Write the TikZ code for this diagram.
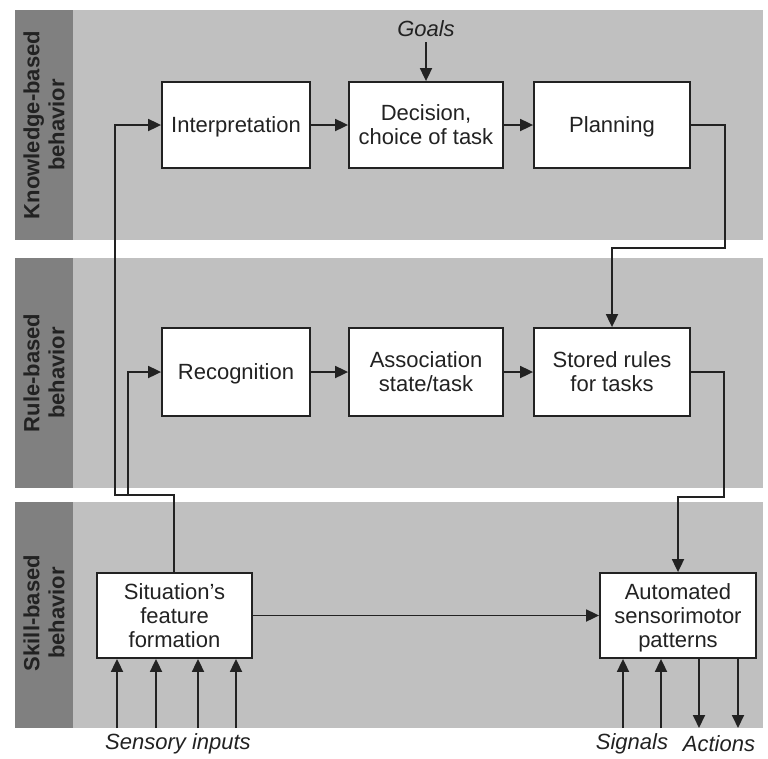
\documentclass[tikz,border=0pt]{standalone}
\usepackage{fontspec}
\setmainfont{Liberation Sans}
\usetikzlibrary{arrows.meta}
\definecolor{bandgray}{RGB}{192,192,192}
\definecolor{stripgray}{RGB}{128,128,128}
\definecolor{ink}{RGB}{34,34,34}
\begin{document}
\begin{tikzpicture}[x=1pt,y=-1pt,
  box/.style={draw=ink, line width=1.8pt, fill=white, text=ink, align=center,
    inner sep=0pt, text depth=-3pt, font=\fontsize{22}{24}\selectfont},
  conn/.style={draw=ink, line width=1.8pt},
  arr/.style={conn, -{Triangle[length=13pt,width=12pt]}},
  stripbox/.style={fill=stripgray, draw=none},
  band/.style={fill=bandgray, draw=none},
  striptext/.style={rotate=90, align=center, text=ink,
    font=\bfseries\fontsize{22}{25}\selectfont},
  ital/.style={text=ink, font=\itshape\fontsize{22}{24}\selectfont, inner sep=0pt}]
\useasboundingbox (0,0) rectangle (768,758);
\fill[white] (0,0) rectangle (768,758);

% behaviour levels
\fill[band] (73,10) rectangle (763,240);
\fill[band] (73,258) rectangle (763,488);
\fill[band] (73,502) rectangle (763,728);
\fill[stripbox] (15,10) rectangle (73,240);
\fill[stripbox] (15,258) rectangle (73,488);
\fill[stripbox] (15,502) rectangle (73,728);
\node[striptext] (lk) at (44,125) {Knowledge-based\\behavior};
\node[striptext] (lr) at (44,373) {Rule-based\\behavior};
\node[striptext] (ls) at (44,613) {Skill-based\\behavior};

% processing stages
\node[box, minimum width=148pt, minimum height=86pt] (interp) at (236,125) {Interpretation};
\node[box, minimum width=154pt, minimum height=86pt] (decis) at (426,125) {Decision,\\choice of task};
\node[box, minimum width=156pt, minimum height=86pt] (plan) at (612,125) {Planning};
\node[box, minimum width=148pt, minimum height=88pt] (recog) at (236,372) {Recognition};
\node[box, minimum width=154pt, minimum height=88pt] (assoc) at (426,372) {Association\\state/task};
\node[box, minimum width=156pt, minimum height=88pt] (rules) at (612,372) {Stored rules\\for tasks};
\node[box, minimum width=155pt, minimum height=85pt] (sit) at (174.5,615.5) {Situation’s\\feature\\formation};
\node[box, minimum width=156pt, minimum height=85pt] (auto) at (678,615.5) {Automated\\sensorimotor\\patterns};

% external labels
\node[ital] (goals) at (426,29) {Goals};
\node[ital] (sens) at (178,744) {Sensory inputs};
\node[ital] (sig) at (632,744) {Signals};
\node[ital] (act) at (719,744) {Actions};

% routing points
\coordinate (g0) at (426,42);
\coordinate (p1) at (725,125);
\coordinate (p2) at (725,248);
\coordinate (p3) at (612,248);
\coordinate (r1) at (724,372);
\coordinate (r2) at (724,497);
\coordinate (r3) at (678,497);
\coordinate (s1) at (174,495);
\coordinate (s2) at (115,495);
\coordinate (s3) at (128,495);
\coordinate (i1) at (117,728);
\coordinate (i2) at (156,728);
\coordinate (i3) at (198,728);
\coordinate (i4) at (236,728);
\coordinate (n1) at (623,728);
\coordinate (n2) at (661,728);
\coordinate (a1) at (699,728);
\coordinate (a2) at (738,728);

% connectors
\draw[arr] (g0) -- (decis.north);
\draw[arr] (interp) -- (decis);
\draw[arr] (decis) -- (plan);
\draw[arr] (recog) -- (assoc);
\draw[arr] (assoc) -- (rules);
\draw[arr] (plan.east) -- (p1) -- (p2) -- (p3) -- (rules.north);
\draw[arr] (rules.east) -- (r1) -- (r2) -- (r3) -- (auto.north);
\draw[arr] (sit.east) -- (auto.west |- sit.east);
\draw[arr] (sit.north -| s1) -- (s1) -- (s2) -- (s2 |- interp.west) -- (interp.west);
\draw[arr] (s3) -- (s3 |- recog.west) -- (recog.west);

\foreach \c in {i1,i2,i3,i4} \draw[arr] (\c) -- (\c |- sit.south);
\foreach \c in {n1,n2} \draw[arr] (\c) -- (\c |- auto.south);
\foreach \c in {a1,a2} \draw[arr] (\c |- auto.south) -- (\c);
\end{tikzpicture}
\end{document}
